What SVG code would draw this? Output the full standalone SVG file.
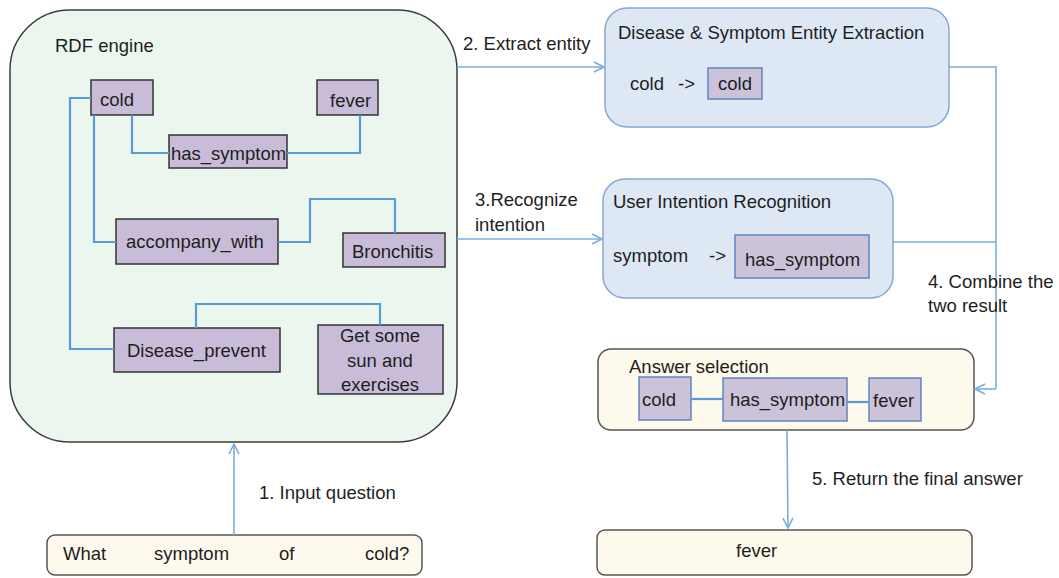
<svg xmlns="http://www.w3.org/2000/svg" width="1059" height="578" viewBox="0 0 1059 578">
<defs>
<style>
text{font-family:"Liberation Sans",Arial,sans-serif;font-size:18.5px;fill:#1e1e1e}
.ent{fill:#c8bcd8;stroke:#333;stroke-width:1.5}
.entb{fill:#ccc3db;stroke:#5f86bd;stroke-width:1.5}
.link{fill:none;stroke:#5b9bd5;stroke-width:2.2}
.flow{fill:none;stroke:#7aaee0;stroke-width:1.6}
.c{text-anchor:middle}
</style>
<marker id="arr" viewBox="0 0 12 12" refX="11" refY="6" markerWidth="12" markerHeight="12" markerUnits="userSpaceOnUse" orient="auto">
<path d="M1,1 L11,6 L1,11" fill="none" stroke="#7aaee0" stroke-width="1.6"/>
</marker>
</defs>
<rect width="1059" height="578" fill="#fff"/>

<g id="rdf-engine">
<rect x="10" y="10" width="447" height="432" rx="60" fill="#ebf7ee" stroke="#3c3c3c" stroke-width="1.5"/>
<text x="55" y="52">RDF engine</text>
</g>

<g id="n-cold">
<rect class="ent" x="91" y="80" width="62" height="35"/>
<text x="100" y="106">cold</text>
</g>
<g id="n-fever">
<rect class="ent" x="317" y="80" width="61" height="35"/>
<text x="330" y="107">fever</text>
</g>
<g id="n-has-symptom">
<rect class="ent" x="169" y="135" width="118" height="33"/>
<text x="171" y="160">has_symptom</text>
</g>
<g id="n-accompany-with">
<rect class="ent" x="116" y="219" width="162" height="45"/>
<text x="126" y="248">accompany_with</text>
</g>
<g id="n-bronchitis">
<rect class="ent" x="343" y="233" width="102" height="34"/>
<text x="352" y="258">Bronchitis</text>
</g>
<g id="n-disease-prevent">
<rect class="ent" x="114" y="328" width="166" height="44"/>
<text x="127" y="357">Disease_prevent</text>
</g>
<g id="n-sun-exercises">
<rect class="ent" x="318" y="325" width="125" height="69"/>
<text class="c" x="380" y="342">Get some</text>
<text class="c" x="380" y="367">sun and</text>
<text class="c" x="380" y="391">exercises</text>
</g>

<g id="n-question">
<rect x="47" y="535" width="375" height="40" rx="8" fill="#fdf9ec" stroke="#555" stroke-width="1.5"/>
<text x="63" y="560">What</text>
<text x="154" y="560">symptom</text>
<text x="279" y="560">of</text>
<text x="365" y="560">cold?</text>
</g>

<g id="n-entity-extraction">
<rect x="605" y="8" width="344" height="119" rx="22" fill="#dde8f4" stroke="#86a8d0" stroke-width="1.5"/>
<text x="618" y="39">Disease &amp; Symptom Entity Extraction</text>
<text x="630" y="90">cold</text>
<text x="678" y="90">-&gt;</text>
<rect class="entb" x="708" y="68" width="54" height="31"/>
<text x="718" y="90">cold</text>
</g>

<g id="n-intention">
<rect x="603" y="179" width="290" height="119" rx="22" fill="#dde8f4" stroke="#86a8d0" stroke-width="1.5"/>
<text x="613" y="208">User Intention Recognition</text>
<text x="613" y="262">symptom</text>
<text x="709" y="262">-&gt;</text>
<rect class="entb" x="735" y="235" width="134" height="43"/>
<text x="745" y="266">has_symptom</text>
</g>

<g id="n-answer-selection">
<rect x="598" y="349" width="376" height="81" rx="13" fill="#fdf9ec" stroke="#555" stroke-width="1.5"/>
<text x="629" y="373">Answer selection</text>
<rect class="entb" x="639" y="377" width="52" height="43"/>
<text x="642" y="406">cold</text>
<rect class="entb" x="723" y="378" width="124" height="43"/>
<text x="730" y="406">has_symptom</text>
<rect class="entb" x="869" y="378" width="52" height="43"/>
<text x="873" y="407">fever</text>
</g>

<g id="n-final">
<rect x="597" y="530" width="375" height="45" rx="8" fill="#fdf9ec" stroke="#555" stroke-width="1.5"/>
<text x="736" y="557">fever</text>
</g>

<g id="connectors">
<polyline class="link" points="91,98 70,98 70,349 114,349"/>
<polyline class="link" points="94,115 94,242 116,242"/>
<polyline class="link" points="132,115 132,153 169,153"/>
<polyline class="link" points="287,153 360,153 360,115"/>
<polyline class="link" points="278,242 310,242 310,199 395,199 395,233"/>
<polyline class="link" points="196,328 196,304 380,304 380,325"/>
<line class="link" x1="691" y1="399" x2="723" y2="399"/>
<line class="link" x1="847" y1="402" x2="869" y2="402"/>
<line class="flow" x1="234" y1="535" x2="234" y2="444" marker-end="url(#arr)"/>
<line class="flow" x1="457" y1="67" x2="604" y2="67" marker-end="url(#arr)"/>
<line class="flow" x1="457" y1="239" x2="602" y2="239" marker-end="url(#arr)"/>
<polyline class="flow" points="949,67 996,67 996,389"/>
<line class="flow" x1="893" y1="242" x2="996" y2="242"/>
<line class="flow" x1="996" y1="389" x2="975" y2="389" marker-end="url(#arr)"/>
<line class="flow" x1="787" y1="430" x2="788" y2="528" marker-end="url(#arr)"/>
<text x="463" y="50">2. Extract entity</text>
<text x="475" y="206">3.Recognize</text>
<text x="475" y="231">intention</text>
<text x="928" y="288">4. Combine the</text>
<text x="928" y="312">two result</text>
<text x="812" y="485">5. Return the final answer</text>
<text x="259" y="499">1. Input question</text>
</g>
</svg>
